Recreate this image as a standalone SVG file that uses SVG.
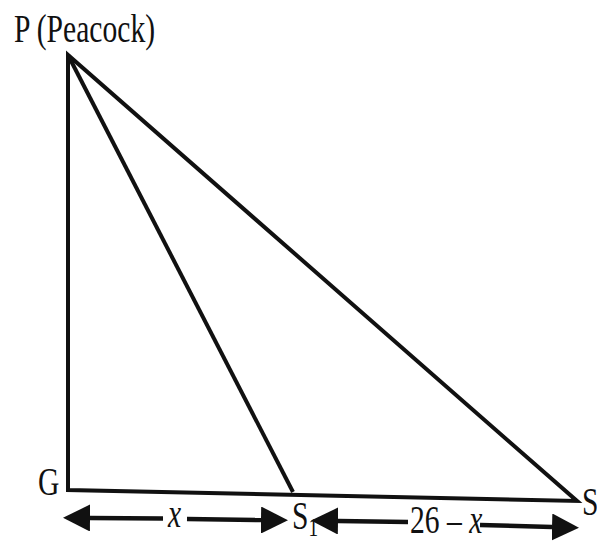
<svg xmlns="http://www.w3.org/2000/svg" width="597" height="541" viewBox="0 0 597 541">
  <style>
    text { font-family: 'Liberation Serif', 'DejaVu Serif', serif; fill: #111; }
    .lbl { font-size: 40px; }
    .sub { font-size: 26px; }
    .it { font-style: italic; }
    .edge { fill: none; stroke: #111; stroke-width: 4; stroke-linejoin: miter; }
    .dim { fill: none; stroke: #111; stroke-width: 4.5; }
  </style>
  <defs>
    <marker id="ah" viewBox="0 0 27 27" refX="0" refY="13.5" markerWidth="27" markerHeight="27" markerUnits="userSpaceOnUse" orient="auto">
      <path d="M0,0 L27,13.5 L0,27 Z" fill="#111"/>
    </marker>
  </defs>
  <rect width="597" height="541" fill="#fff"/>

  <g id="connectors">
    <path class="edge" d="M68,490 L68,55 L577,501 Z"/>
    <path class="edge" d="M68,55 L293,492"/>
  </g>

  <g id="dimensions">
    <path class="dim" d="M163,518.5 L90,518" marker-end="url(#ah)"/>
    <path class="dim" d="M187,519 L261,520" marker-end="url(#ah)"/>
    <path class="dim" d="M408,522 L338,521" marker-end="url(#ah)"/>
    <path class="dim" d="M480,525 L552,527" marker-end="url(#ah)"/>
    <text class="lbl it" transform="translate(168,527) scale(0.74,1)">x</text>
    <text class="lbl" transform="translate(410,533) scale(0.74,1)">26 – <tspan class="it">x</tspan></text>
  </g>

  <g id="node-P">
    <text class="lbl" transform="translate(14,42) scale(0.74,1)">P (Peacock)</text>
  </g>
  <g id="node-G">
    <text class="lbl" transform="translate(38,495) scale(0.74,1)">G</text>
  </g>
  <g id="node-S1">
    <text class="lbl" transform="translate(292,529) scale(0.74,1)">S<tspan class="sub" dy="7">1</tspan></text>
  </g>
  <g id="node-S">
    <text class="lbl" transform="translate(582,515) scale(0.74,1)">S</text>
  </g>
</svg>
